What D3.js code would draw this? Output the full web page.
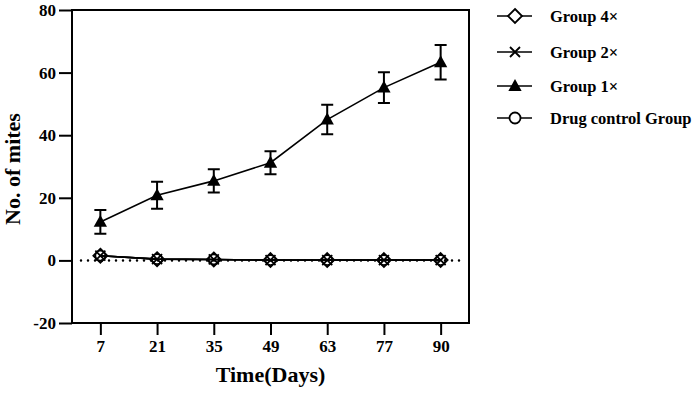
<!DOCTYPE html>
<html>
<head>
<meta charset="utf-8">
<script src="https://cdn.jsdelivr.net/npm/d3@7"></script>
<style>
  body { margin: 0; background: #fff; }
  text { font-family: "Liberation Serif", "Times New Roman", serif; font-weight: bold; fill: #000; }
</style>
</head>
<body>
<div id="chart"></div>
<script>
// data
const days = ["7", "21", "35", "49", "63", "77", "90"];
const yTicks = [-20, 0, 20, 40, 60, 80];

const group1Mean = [12.3, 20.8, 25.4, 31.2, 45.0, 55.2, 63.3];
const group1Err = [3.8, 4.3, 3.7, 3.7, 4.7, 4.9, 5.5];
const group2Mean = [1.5, 0.4, 0.3, 0.1, 0.1, 0.1, 0.1];
const group4Mean = [1.5, 0.4, 0.3, 0.1, 0.1, 0.1, 0.1];
const drugMean = [1.5, 0.4, 0.3, 0.1, 0.1, 0.1, 0.1];

const legendNames = ["Group 4×", "Group 2×", "Group 1×", "Drug control Group"];

const width = 694, height = 396;
const margin = { top: 10, right: 225, bottom: 73, left: 72 };

const svg = d3.select("#chart").append("svg")
  .attr("width", width)
  .attr("height", height);

const x = d3.scalePoint().domain(days).range([margin.left, width - margin.right]).padding(0.5);
const y = d3.scaleLinear().domain([-20, 80]).range([height - margin.bottom, margin.top]);

// frame
svg.append("rect")
  .attr("x", margin.left)
  .attr("y", margin.top)
  .attr("width", width - margin.right - margin.left)
  .attr("height", height - margin.bottom - margin.top)
  .attr("fill", "none")
  .attr("stroke", "#000")
  .attr("stroke-width", 2);

// axes
const yAxis = svg.append("g")
  .attr("transform", "translate(" + margin.left + ",0)")
  .call(d3.axisLeft(y).tickValues(yTicks).tickFormat(d => String(d)).tickSize(13).tickPadding(3));
const xAxis = svg.append("g")
  .attr("transform", "translate(0," + (height - margin.bottom) + ")")
  .call(d3.axisBottom(x).tickSize(12).tickPadding(5));

[xAxis, yAxis].forEach(g => {
  g.select(".domain").remove();
  g.selectAll("line").attr("stroke", "#000").attr("stroke-width", 2);
  g.selectAll("text").style("font-size", "17px").style("font-family", "Liberation Serif").style("font-weight", "bold");
});

svg.append("text")
  .text("Time(Days)")
  .attr("x", x("49"))
  .attr("y", 382)
  .attr("text-anchor", "middle")
  .style("font-size", "22px");

svg.append("text")
  .text("No. of mites")
  .attr("transform", "translate(20,169) rotate(-90)")
  .attr("text-anchor", "middle")
  .style("font-size", "22px");

// dotted zero line
svg.append("line")
  .attr("x1", 81).attr("x2", 462)
  .attr("y1", y(0)).attr("y2", y(0))
  .attr("stroke", "#000")
  .attr("stroke-width", 2.5)
  .attr("stroke-linecap", "round")
  .attr("stroke-dasharray", "0,7");

const line = d3.line().x((d, i) => x(days[i])).y(d => y(d));

// marker drawers
function diamond(g, s, fill) {
  g.append("path").attr("d", `M0,${-s}L${s},0L0,${s}L${-s},0Z`)
    .attr("fill", fill).attr("stroke", "#000").attr("stroke-width", 1.8);
}
function cross(g, s) {
  g.append("path").attr("d", `M${-s},${-s}L${s},${s}M${s},${-s}L${-s},${s}`)
    .attr("stroke", "#000").attr("stroke-width", 1.8);
}
function triangle(g, s) {
  g.append("path").attr("d", `M0,${-s}L${s * 0.95},${s * 0.7}L${-s * 0.95},${s * 0.7}Z`)
    .attr("fill", "#000");
}
function circle(g, s, fill) {
  g.append("circle").attr("r", s).attr("fill", fill).attr("stroke", "#000").attr("stroke-width", 1.8);
}

const series = [
  { values: group4Mean, marker: diamond, size: 7 },
  { values: group2Mean, marker: cross, size: 5 },
  { values: drugMean, marker: circle, size: 5 },
  { values: group1Mean, err: group1Err, marker: triangle, size: 7 }
];

series.forEach(s => {
  svg.append("path")
    .attr("d", line(s.values))
    .attr("fill", "none")
    .attr("stroke", "#000")
    .attr("stroke-width", 1.6);

  if (s.err) {
    const eb = svg.append("g");
    s.values.forEach((v, i) => {
      const cx = x(days[i]);
      const lo = y(v - s.err[i]), hi = y(v + s.err[i]);
      eb.append("path")
        .attr("d", `M${cx},${hi}L${cx},${lo}M${cx - 6},${hi}L${cx + 6},${hi}M${cx - 6},${lo}L${cx + 6},${lo}`)
        .attr("stroke", "#000").attr("stroke-width", 2).attr("fill", "none");
    });
  }

  s.values.forEach((v, i) => {
    const g = svg.append("g").attr("transform", "translate(" + x(days[i]) + "," + y(v) + ")");
    s.marker(g, s.size, "none");
  });
});

// legend
const legendMarkers = [[diamond, 7], [cross, 5], [triangle, 7], [circle, 5.5]];
const legendY = [16, 52, 86, 118];
legendNames.forEach((name, i) => {
  const g = svg.append("g").attr("transform", "translate(515," + legendY[i] + ")");
  g.append("line").attr("x1", -18).attr("x2", 17).attr("stroke", "#000").attr("stroke-width", 1.5);
  legendMarkers[i][0](g, legendMarkers[i][1], "#fff");
  g.append("text").text(name)
    .attr("x", 35).attr("dy", "0.35em")
    .style("font-size", "16.5px");
});
</script>
</body>
</html>
